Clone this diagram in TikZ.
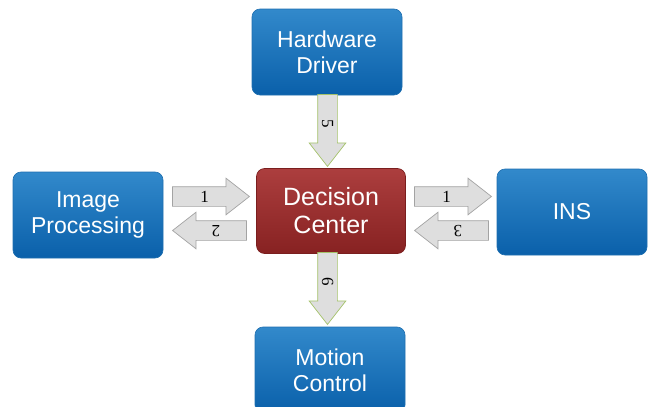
\documentclass[tikz,border=0pt]{standalone}
\usepackage{fontspec}
\setmainfont{Liberation Serif}
\newfontfamily\boxfont{Liberation Sans}
\usetikzlibrary{shapes.arrows}
\definecolor{bluetop}{HTML}{3289CB}
\definecolor{bluebot}{HTML}{0A60AA}
\definecolor{blueline}{HTML}{1F6FB0}
\definecolor{redtop}{HTML}{AC3E3E}
\definecolor{redbot}{HTML}{872222}
\definecolor{redline}{HTML}{7A1E1E}
\definecolor{arrfill}{HTML}{DEDEDE}
\definecolor{arrgray}{HTML}{A3A3A3}
\definecolor{arrgreen}{HTML}{A4C26A}
\tikzset{
  bluebox/.style={rounded corners=8pt, minimum width=150pt, minimum height=86pt,
    draw=blueline, line width=0.6pt, top color=bluetop, bottom color=bluebot,
    text=white, align=center, font=\boxfont\fontsize{23}{26}\selectfont},
  redbox/.style={rounded corners=8pt, minimum width=149pt, minimum height=85pt,
    draw=redline, line width=0.6pt, top color=redtop, bottom color=redbot,
    text=white, align=center, font=\boxfont\fontsize{25}{28}\selectfont},
  blockarrow/.style={shape=single arrow, fill=arrfill, draw=arrgray, line width=0.7pt,
    minimum height=77pt, minimum width=36pt, single arrow head extend=8.5pt,
    single arrow tip angle=76, inner xsep=2pt, inner ysep=4pt, text height=11pt, text depth=0pt,
    font=\fontsize{17}{17}\selectfont, anchor=tip},
  backarrow/.style={blockarrow, minimum height=74pt},
  varrow/.style={blockarrow, draw=arrgreen, minimum height=72pt},
}
\begin{document}
\begin{tikzpicture}[x=1pt, y=-1pt]
\useasboundingbox (0,0) rectangle (649,407);
\node[bluebox] (hw) at (327,52) {Hardware\\Driver};
\node[redbox] (dc) at (331,211) {Decision\\Center};
\node[bluebox] (ip) at (88,215) {Image\\Processing};
\node[bluebox] (ins) at (572,212) {INS};
\node[bluebox] (mc) at (330,370) {Motion\\Control};
\node[blockarrow] (a1) at (250,196.5) {1};
\node[backarrow, rotate=180] (a2) at (172,230.5) {2};
\node[blockarrow] (a4) at (492,196.5) {1};
\node[backarrow, rotate=180] (a3) at (414,230.5) {3};
\node[varrow, rotate=-90] (a5) at (327.5,167) {5};
\node[varrow, rotate=-90] (a6) at (327.5,325) {6};
\end{tikzpicture}
\end{document}
